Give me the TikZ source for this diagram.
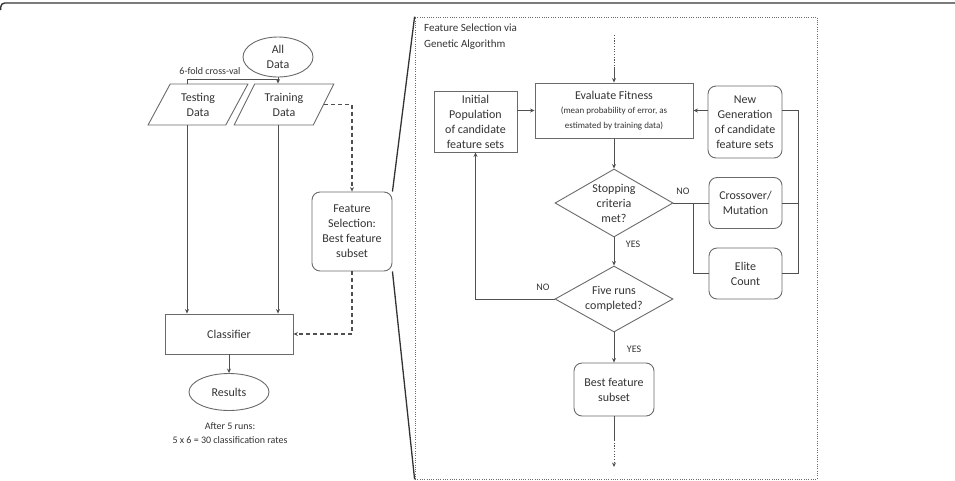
\documentclass[tikz,border=0pt]{standalone}
\usepackage{fontspec}
\setmainfont{Carlito}
\usetikzlibrary{shapes.geometric,arrows.meta,calc}
\definecolor{txt}{HTML}{333333}
\definecolor{ln}{HTML}{505050}
\definecolor{bd}{HTML}{6A6A6A}
\begin{document}
\begin{tikzpicture}[x=1pt,y=-1pt,
  every node/.style={text=txt,font=\fontsize{12}{15}\selectfont,align=center,inner sep=0pt},
  sq/.style={draw=bd,line width=0.9pt,rectangle},
  rsq/.style={sq,rounded corners=8pt},
  ell/.style={draw=bd,line width=0.9pt,ellipse},
  para/.style={draw=bd,line width=0.9pt,trapezium,trapezium left angle=60,trapezium right angle=120,trapezium stretches=true},
  dia/.style={draw=bd,line width=0.9pt,diamond,aspect=1.74},
  conn/.style={draw=ln,line width=0.9pt},
  arr/.style={conn,-{Stealth[length=4.5pt,width=4pt]}},
  dsh/.style={dash pattern=on 4pt off 3pt,line width=1.2pt},
  lbl/.style={font=\fontsize{10}{12}\selectfont},
  small/.style={font=\fontsize{9}{13.5}\selectfont},
  zoomln/.style={draw=txt,line width=1.3pt},
]
\useasboundingbox (0,0) rectangle (955,480);
% outer frame top
\draw[line width=1.4pt,draw=txt,rounded corners=4pt] (0.7,10) |- (955,3);

% left flow
\node[ell,minimum width=70,minimum height=40] (all) at (278,57) {All\\Data};
\node[para,minimum width=100,minimum height=41] (test) at (198,104.5) {Testing\\Data};
\node[para,minimum width=100,minimum height=41] (train) at (284,104.5) {Training\\Data};
\coordinate (split) at (278,79);
\coordinate (tl) at (187,79);
\node[lbl,anchor=south] (cv) at (210,75) {6-fold cross-val};
\node[sq,minimum width=128,minimum height=40] (clf) at (229,334) {Classifier};
\node[rsq,minimum width=80,minimum height=79] (feat) at (352,231.5) {Feature\\Selection:\\Best feature\\subset};
\node[ell,minimum width=80,minimum height=37] (res) at (229,392) {Results};
\node[font=\fontsize{10}{13.5}\selectfont] (note) at (230,433) {After 5 runs:\\5 x 6 = 30 classification rates};

\draw[conn] (all.south) -- (split);
\draw[arr] (split) -- (all.south |- train.north);
\draw[conn] (split) -- (tl) -- (tl |- test.north);
\draw[arr] (tl |- test.south) -- (tl |- clf.north);
\draw[arr] (split |- train.south) -- (split |- clf.north);
\draw[arr,dsh] (train.east) -| (feat.north);
\draw[arr,dsh] (feat.south) |- (clf.east);
\draw[arr] (clf.south) -- (res.north);

% panel
\node[draw=bd,line width=0.8pt,dash pattern=on 1pt off 1.3pt,minimum width=402,minimum height=462] (panel) at (616,248) {};
\draw[zoomln] (feat.north east) -- (panel.north west);
\draw[zoomln] (feat.south east) -- (panel.south west);
\node[anchor=north west,align=left,font=\fontsize{11}{16}\selectfont] (title) at (424,24) {Feature Selection via\\Genetic Algorithm};

\node[sq,minimum width=158,minimum height=55] (eval) at (614,110.5) {Evaluate Fitness\\[-1pt]{\small\fontsize{9}{13.5}\selectfont (mean probability of error, as}\\{\fontsize{9}{13.5}\selectfont estimated by training data)}};
\node[sq,minimum width=83,minimum height=61] (init) at (475.5,121.5) {Initial\\Population\\of candidate\\feature sets};
\node[rsq,minimum width=74,minimum height=72] (newg) at (745,122) {New\\Generation\\of candidate\\feature sets};
\node[rsq,minimum width=73,minimum height=51] (cross) at (745.5,203) {Crossover/\\Mutation};
\node[rsq,minimum width=73,minimum height=51] (elite) at (745.5,273.5) {Elite\\Count};
\node[dia,minimum width=118,minimum height=68] (stop) at (614,203) {Stopping\\criteria\\met?};
\node[dia,minimum width=118,minimum height=66] (five) at (614,299) {Five runs\\completed?};
\node[rsq,minimum width=80,minimum height=53] (best) at (614,389.5) {Best feature\\subset};

\coordinate (in1) at (614,35);
\coordinate (in2) at (614,68);
\draw[conn,dash pattern=on 1.2pt off 1.5pt] (in1) -- (in2);
\draw[arr] (in2) -- (eval.north);
\draw[arr] (init.east |- eval.west) -- (eval.west);
\draw[arr] (newg.west |- eval.east) -- (eval.east);
\draw[arr] (eval.south) -- (stop.north);

\coordinate (rb) at (798,0);
\coordinate (lb) at (693,0);
\draw[conn] (newg.east |- eval.east) -| (rb |- elite.east) -- (elite.east);
\draw[conn] (cross.east) -- (rb |- cross.east);
\draw[conn] (stop.east) -- (lb |- stop.east) |- (elite.west);
\draw[conn] (lb |- cross.west) -- (cross.west);
\node[lbl] (no1) at (683,191) {NO};

\draw[arr] (stop.south) -- (five.north);
\node[lbl] (yes1) at (633,244) {YES};
\draw[arr] (five.west) -| (init.south);
\node[lbl] (no2) at (543,287) {NO};
\draw[arr] (five.south) -- (best.north);
\node[lbl] (yes2) at (634,349) {YES};

\coordinate (o1) at (614,440);
\coordinate (o2) at (614,467);
\draw[conn] (best.south) -- (o1);
\draw[arr,dash pattern=on 1.2pt off 1.5pt] (o1) -- (o2);
\end{tikzpicture}
\end{document}
